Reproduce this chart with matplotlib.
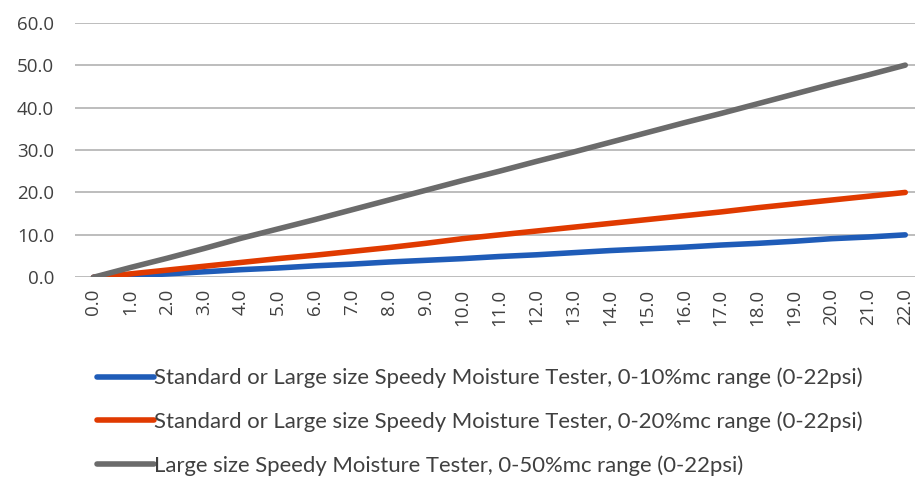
import matplotlib
matplotlib.use("Agg")
import matplotlib.pyplot as plt

psi_labels = ["0.0", "1.0", "2.0", "3.0", "4.0", "5.0", "6.0", "7.0", "8.0", "9.0",
              "10.0", "11.0", "12.0", "13.0", "14.0", "15.0", "16.0", "17.0", "18.0",
              "19.0", "20.0", "21.0", "22.0"]

mc_10 = [0.0, 0.3, 0.8, 1.3, 1.8, 2.2, 2.7, 3.1, 3.6, 4.0, 4.4, 4.9, 5.3, 5.8,
         6.3, 6.7, 7.1, 7.6, 8.0, 8.5, 9.1, 9.5, 10.0]
mc_20 = [0.0, 0.8, 1.7, 2.6, 3.5, 4.4, 5.2, 6.1, 7.0, 8.0, 9.1, 10.0, 10.9, 11.8,
         12.7, 13.6, 14.5, 15.4, 16.4, 17.3, 18.2, 19.1, 20.0]
mc_50 = [0.0, 2.3, 4.5, 6.8, 9.2, 11.4, 13.6, 15.9, 18.2, 20.5, 22.8, 25.0, 27.3,
         29.5, 31.8, 34.1, 36.4, 38.6, 40.9, 43.2, 45.5, 47.7, 50.0]

series_labels = [
    "Standard or Large size Speedy Moisture Tester, 0-10%mc range (0-22psi)",
    "Standard or Large size Speedy Moisture Tester, 0-20%mc range (0-22psi)",
    "Large size Speedy Moisture Tester, 0-50%mc range (0-22psi)",
]
colors = ["#1f5cb8", "#e03a00", "#6b6b6b"]
y_ticks = [0, 10, 20, 30, 40, 50, 60]

W, H = 915, 478
fig = plt.figure(figsize=(W / 100, H / 100), dpi=100)
left = 75 / W
bottom = 1 - 277.3 / H
top = 1 - 22.7 / H
width = 23 * 36.9 / W
ax = fig.add_axes([left, bottom, width, top - bottom])

x = list(range(len(psi_labels)))
lines = []
for vals, c, lab in zip([mc_10, mc_20, mc_50], colors, series_labels):
    ln, = ax.plot(x, vals, color=c, lw=4.0, solid_capstyle="round", label=lab, zorder=3)
    lines.append(ln)

ax.set_xlim(-0.5, 22.5)
ax.set_ylim(0, 60)
ax.set_yticks(y_ticks)
ax.set_yticklabels([f"{v:.1f}" for v in y_ticks])
ax.set_xticks(x)
ax.set_xticklabels(psi_labels, rotation=90)
ax.grid(axis="y", color="#b8b8b8", lw=1.3)
ax.set_axisbelow(True)
for s in ax.spines.values():
    s.set_visible(False)
ax.tick_params(axis="both", length=0, colors="#404040", labelsize=13.5)
ax.tick_params(axis="y", pad=15)
ax.tick_params(axis="x", pad=8)
for t in ax.get_xticklabels() + ax.get_yticklabels():
    t.set_fontfamily("Open Sans")
    t.set_color("#404040")

leg = fig.legend(handles=lines, labels=series_labels, loc="upper left",
                 bbox_to_anchor=(88 / W, 1 - 359 / H), frameon=False,
                 prop={"family": "Lato", "size": 15.9}, handlelength=2.6,
                 handletextpad=0.0, labelspacing=1.05, borderaxespad=0)
for t in leg.get_texts():
    t.set_color("#404040")

fig.savefig("out.png", dpi=100)
